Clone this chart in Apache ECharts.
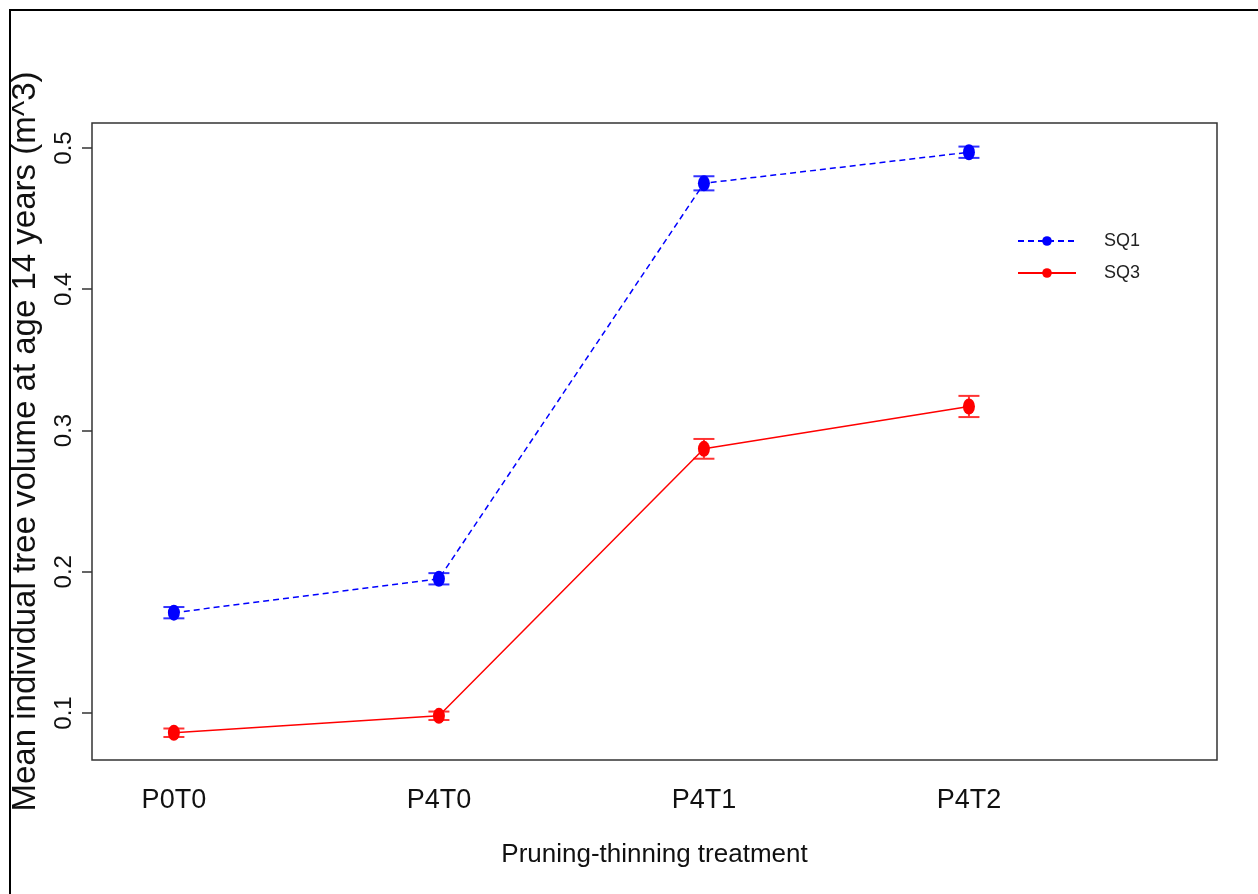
<!DOCTYPE html>
<html>
<head>
<meta charset="utf-8">
<script src="https://cdn.jsdelivr.net/npm/echarts@6/dist/echarts.min.js"></script>
<style>
  html, body { margin: 0; padding: 0; background: #fff; }
  #chart { width: 1258px; height: 894px; }
</style>
</head>
<body>
<div id="chart"></div>
<script>
// treatments on the x axis
const treatments = ['P0T0', 'P4T0', 'P4T1', 'P4T2'];
// mean volume (m^3) and standard error per site quality
const sq1Mean = [0.171, 0.195, 0.475, 0.497];
const sq1Err = [0.004, 0.004, 0.005, 0.004];
const sq3Mean = [0.086, 0.098, 0.287, 0.317];
const sq3Err = [0.003, 0.003, 0.007, 0.0075];
const yTicks = [0.1, 0.2, 0.3, 0.4, 0.5];

const narrow = '"Liberation Sans Narrow", "Liberation Sans", Arial, sans-serif';
const sans = '"Liberation Sans", Arial, sans-serif';

function pts(means) {
    return means.map((v, i) => [i + 1, v]);
}
function bars(means, errs) {
    return means.map((v, i) => [i + 1, v - errs[i], v + errs[i]]);
}

function errorSeries(name, means, errs, color) {
    return {
        name: name,
        type: 'custom',
        z: 3,
        silent: true,
        data: bars(means, errs),
        renderItem: function (params, api) {
            const lo = api.coord([api.value(0), api.value(1)]);
            const hi = api.coord([api.value(0), api.value(2)]);
            const w = 10.5;
            const style = { stroke: color, lineWidth: 2 };
            return {
                type: 'group',
                children: [
                    { type: 'line', shape: { x1: lo[0], y1: lo[1], x2: hi[0], y2: hi[1] }, style: style },
                    { type: 'line', shape: { x1: lo[0] - w, y1: lo[1], x2: lo[0] + w, y2: lo[1] }, style: style },
                    { type: 'line', shape: { x1: hi[0] - w, y1: hi[1], x2: hi[0] + w, y2: hi[1] }, style: style }
                ]
            };
        }
    };
}

const chart = echarts.init(document.getElementById('chart'));

const option = {
    animation: false,
    backgroundColor: '#fff',
    graphic: [{
        type: 'rect',
        shape: { x: 10, y: 10, width: 1400, height: 1000 },
        style: { fill: 'none', stroke: '#000', lineWidth: 2 },
        silent: true
    }],
    grid: {
        left: 92, top: 123, right: 41, bottom: 134,
        outerBoundsMode: 'none',
        show: true,
        borderColor: '#333',
        borderWidth: 1.5
    },
    legend: {
        orient: 'vertical',
        left: 1017,
        top: 232,
        padding: 0,
        itemWidth: 58,
        itemHeight: 12,
        itemGap: 14,
        data: ['SQ1', 'SQ3'],
        textStyle: { fontFamily: narrow, fontSize: 18, color: '#222', padding: [0, 0, 0, 23] }
    },
    xAxis: {
        type: 'value',
        min: 0.691,
        max: 4.936,
        splitLine: { show: false },
        axisLine: { show: false },
        axisTick: { show: false },
        axisLabel: {
            customValues: [1, 2, 3, 4],
            formatter: v => treatments[Math.round(v) - 1] || '',
            margin: 27,
            fontFamily: narrow,
            fontSize: 27,
            color: '#111'
        },
        name: 'Pruning-thinning treatment',
        nameLocation: 'middle',
        nameGap: 82,
        nameTextStyle: { fontFamily: narrow, fontSize: 26, color: '#111' }
    },
    yAxis: {
        type: 'value',
        min: 0.0667,
        max: 0.5177,
        splitLine: { show: false },
        axisLine: { show: false },
        axisTick: {
            show: true,
            customValues: yTicks,
            length: 10,
            lineStyle: { color: '#333', width: 1.5 }
        },
        axisLabel: {
            customValues: yTicks,
            formatter: v => v.toFixed(1),
            rotate: 90,
            margin: 16,
            fontFamily: sans,
            fontSize: 24,
            color: '#111'
        },
        name: 'Mean individual tree volume at age 14 years (m^3)',
        nameLocation: 'middle',
        nameRotate: 90,
        nameGap: 50,
        nameTextStyle: { fontFamily: sans, fontSize: 33, color: '#111' }
    },
    series: [
        {
            name: 'SQ1',
            type: 'line',
            data: pts(sq1Mean),
            symbol: 'circle',
            symbolSize: [12, 16],
            z: 4,
            itemStyle: { color: '#0000ff' },
            lineStyle: { color: '#0000ff', width: 1.5, type: [6, 4] }
        },
        {
            name: 'SQ3',
            type: 'line',
            data: pts(sq3Mean),
            symbol: 'circle',
            symbolSize: [12, 16],
            z: 4,
            itemStyle: { color: '#ff0000' },
            lineStyle: { color: '#ff0000', width: 1.5 }
        },
        errorSeries('SQ1', sq1Mean, sq1Err, '#3333ff'),
        errorSeries('SQ3', sq3Mean, sq3Err, '#ff3333')
    ]
};

chart.setOption(option);
</script>
</body>
</html>
